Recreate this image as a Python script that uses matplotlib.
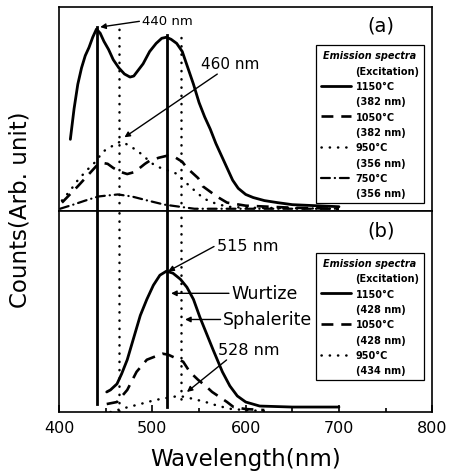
import matplotlib
matplotlib.use("Agg")
import matplotlib.pyplot as plt
from matplotlib.lines import Line2D
from matplotlib.ticker import MultipleLocator

plt.rcParams["font.family"] = ["DejaVu Sans"]

# ── Panel (a): emission spectra ─────────────────────────────
a_1150_x = [412, 416, 420, 424, 428, 432, 436, 440, 444, 448, 453, 458, 464, 470, 476,
            480, 485, 490, 497, 504, 510, 515, 520, 526, 532, 538, 544, 550, 556, 562,
            568, 574, 580, 586, 592, 600, 608, 620, 634, 650, 675, 700]
a_1150_y = [0.35, 0.50, 0.62, 0.70, 0.76, 0.80, 0.85, 0.89, 0.87, 0.83, 0.79, 0.74, 0.70,
            0.67, 0.655, 0.66, 0.69, 0.72, 0.78, 0.82, 0.845, 0.85, 0.84, 0.82, 0.78, 0.70,
            0.62, 0.53, 0.46, 0.40, 0.33, 0.27, 0.21, 0.15, 0.11, 0.08, 0.065, 0.05, 0.04,
            0.03, 0.025, 0.02]

a_1050_x = [403, 420, 430, 440, 446, 452, 458, 466, 473, 481, 492, 497, 507, 516, 525,
            532, 537, 549, 554, 569, 580, 600, 650, 700]
a_1050_y = [0.04, 0.12, 0.17, 0.22, 0.235, 0.23, 0.21, 0.19, 0.18, 0.19, 0.23, 0.245,
            0.26, 0.27, 0.26, 0.24, 0.21, 0.16, 0.12, 0.07, 0.04, 0.025, 0.015, 0.01]

a_950_x = [403, 412, 420, 430, 439, 447, 458, 466, 475, 485, 495, 503, 515, 527, 533,
           545, 555, 565, 580, 600, 700]
a_950_y = [0.05, 0.10, 0.15, 0.20, 0.24, 0.29, 0.32, 0.34, 0.32, 0.29, 0.25, 0.22, 0.20,
           0.18, 0.15, 0.10, 0.06, 0.04, 0.02, 0.015, 0.01]

a_750_x = [401, 415, 428, 442, 452, 463, 478, 495, 513, 529, 545, 600, 700]
a_750_y = [0.01, 0.03, 0.05, 0.07, 0.075, 0.08, 0.07, 0.05, 0.03, 0.02, 0.01, 0.01, 0.01]

# ── Panel (b): emission spectra ─────────────────────────────
b_1150_x = [451, 455, 462, 467, 473, 480, 487, 494, 501, 508, 515, 522, 530, 537, 544,
            551, 558, 565, 575, 583, 591, 600, 615, 650, 700]
b_1150_y = [0.10, 0.11, 0.14, 0.19, 0.26, 0.37, 0.48, 0.56, 0.63, 0.68, 0.70, 0.69, 0.66,
            0.62, 0.56, 0.47, 0.39, 0.31, 0.20, 0.13, 0.08, 0.05, 0.03, 0.025, 0.025]

b_1050_x = [451, 462, 473, 483, 494, 505, 511, 517, 524, 533, 540, 549, 557, 564, 580,
            587, 600, 620]
b_1050_y = [0.04, 0.05, 0.11, 0.20, 0.26, 0.28, 0.29, 0.285, 0.27, 0.25, 0.20, 0.16, 0.13,
            0.10, 0.05, 0.025, 0.015, 0.01]

b_950_x = [455, 470, 487, 503, 515, 528, 535, 544, 557, 571, 585, 600, 620]
b_950_y = [0.0, 0.02, 0.04, 0.06, 0.07, 0.08, 0.075, 0.065, 0.05, 0.03, 0.015, 0.01, 0.005]

# marker lines (nm), with their extents in each panel
mark_nm = [441, 464, 516, 531]
mark_solid = [True, False, True, False]
mark_top_a = [0.90, 0.92, 0.86, 0.88]
mark_bot_b = [0.04, 0.005, 0.025, 0.065]

legend_a = [("1150°C", "(382 nm)"), ("1050°C", "(382 nm)"),
            ("950°C", "(356 nm)"), ("750°C", "(356 nm)")]
legend_b = [("1150°C", "(428 nm)"), ("1050°C", "(428 nm)"), ("950°C", "(434 nm)")]

x_ticks = [400, 500, 600, 700, 800]

SOLID = dict(color="black", lw=2.0, ls="-", solid_capstyle="round")
DASH = dict(color="black", lw=1.9, ls=(0, (4.5, 3.0)))
DOT = dict(color="black", lw=1.8, ls=(0, (0.1, 3.2)), dash_capstyle="round")
DASHDOT = dict(color="black", lw=1.6, ls=(0, (4.0, 2.2, 0.1, 2.2)), dash_capstyle="round")

fig = plt.figure(figsize=(4.55, 4.77), dpi=100)
ax_a = fig.add_axes([0.130, 0.556, 0.820, 0.428])
ax_b = fig.add_axes([0.130, 0.134, 0.820, 0.422])

for ax in (ax_a, ax_b):
    ax.set_xlim(400, 800)
    ax.set_ylim(0, 1)
    ax.set_yticks([])
    for sp in ax.spines.values():
        sp.set_linewidth(1.2)

ax_a.set_xticks([])
ax_b.set_xticks(x_ticks)
ax_b.xaxis.set_minor_locator(MultipleLocator(50))
ax_b.tick_params(axis="x", which="major", direction="in", length=5, width=1.2,
                 labelsize=11.5, pad=6)
ax_b.tick_params(axis="x", which="minor", direction="in", length=3, width=1.2)


def draw_legend(ax, entries, styles, anchor):
    handles, labels = [], []
    blank = Line2D([], [], ls="none")
    handles.append(blank)
    labels.append("(Excitation)")
    for (temp, exc), st in zip(entries, styles):
        handles.append(Line2D([], [], **st))
        labels.append(temp)
        handles.append(blank)
        labels.append(exc)
    leg = ax.legend(handles, labels, title="Emission spectra", loc="upper right",
                    bbox_to_anchor=anchor, prop={"weight": "bold", "size": 7},
                    title_fontproperties={"weight": "bold", "style": "italic", "size": 7},
                    frameon=True, fancybox=False, edgecolor="black", framealpha=1,
                    handlelength=3.1, handletextpad=0.5, labelspacing=0.55,
                    borderpad=0.5, borderaxespad=0)
    leg.get_frame().set_linewidth(0.9)
    return leg


# panel (a)
ax_a.plot(a_1150_x, a_1150_y, **SOLID)
ax_a.plot(a_1050_x, a_1050_y, **DASH)
ax_a.plot(a_950_x, a_950_y, **DOT)
ax_a.plot(a_750_x, a_750_y, **DASHDOT)
for nm, solid, top in zip(mark_nm, mark_solid, mark_top_a):
    st = dict(color="black", lw=2.0) if solid else DOT
    ax_a.plot([nm, nm], [0, top], **st)

arrow = dict(arrowstyle="-|>", color="black", lw=1.0, mutation_scale=8, shrinkA=0, shrinkB=0)
ax_a.annotate("440 nm", xy=(444, 0.90), xytext=(489, 0.93), fontsize=9.5,
              va="center", ha="left", arrowprops=dict(arrow, relpos=(0, 0.5)))
ax_a.annotate("460 nm", xy=(470, 0.36), xytext=(552, 0.72), fontsize=11,
              va="center", ha="left", arrowprops=dict(arrow, relpos=(0.35, 0)))
ax_a.text(745, 0.91, "(a)", fontsize=14, ha="center", va="center")
draw_legend(ax_a, legend_a, [SOLID, DASH, DOT, DASHDOT], (0.979, 0.81))

# panel (b)
ax_b.plot(b_1150_x, b_1150_y, **SOLID)
ax_b.plot(b_1050_x, b_1050_y, **DASH)
ax_b.plot(b_950_x, b_950_y, **DOT)
for nm, solid, bot in zip(mark_nm, mark_solid, mark_bot_b):
    st = dict(color="black", lw=2.0) if solid else DOT
    ax_b.plot([nm, nm], [bot, 1], **st)

ax_b.annotate("515 nm", xy=(517, 0.70), xytext=(569, 0.83), fontsize=11.5,
              va="center", ha="left", arrowprops=dict(arrow, relpos=(0, 0.5)))
ax_b.annotate("Wurtize", xy=(520, 0.59), xytext=(585, 0.59), fontsize=12.5,
              va="center", ha="left", arrowprops=dict(arrow, relpos=(0, 0.5)))
ax_b.annotate("Sphalerite", xy=(535, 0.46), xytext=(576, 0.46), fontsize=12.5,
              va="center", ha="left", arrowprops=dict(arrow, relpos=(0, 0.5)))
ax_b.annotate("528 nm", xy=(537, 0.10), xytext=(570, 0.31), fontsize=11.5,
              va="center", ha="left", arrowprops=dict(arrow, relpos=(0.2, 0)))
ax_b.text(745, 0.905, "(b)", fontsize=14, ha="center", va="center")
draw_legend(ax_b, legend_b, [SOLID, DASH, DOT], (0.979, 0.79))

ax_b.set_xlabel("Wavelength(nm)", fontsize=16.5, labelpad=8)
fig.text(0.044, 0.56, "Counts(Arb. unit)", fontsize=16.5, rotation=90,
         ha="center", va="center")

fig.savefig("out.png", dpi=100, facecolor="white")
